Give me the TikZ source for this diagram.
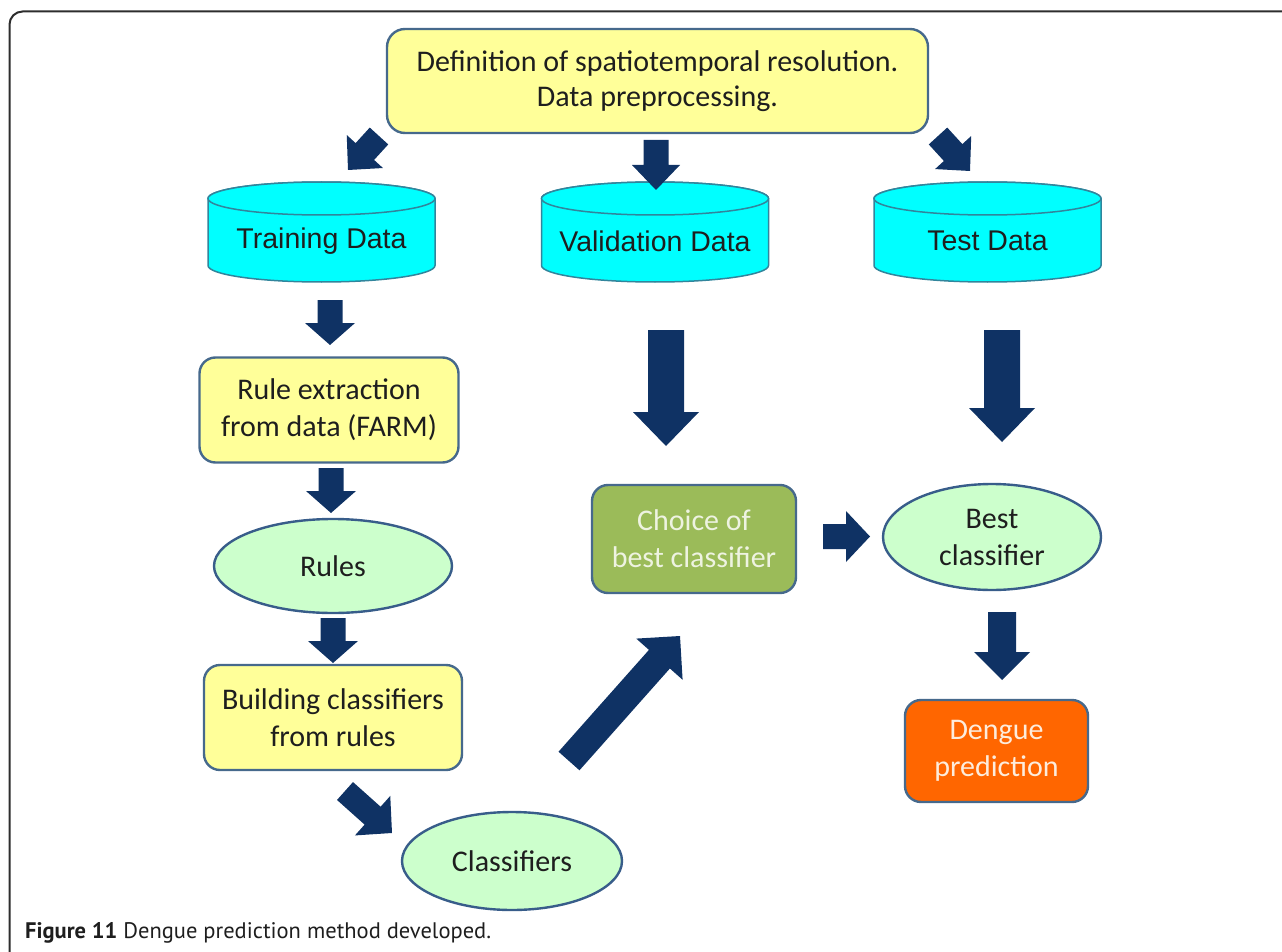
\documentclass[tikz,border=0pt]{standalone}
\usepackage{fontspec}
\setmainfont{Carlito}
\newfontfamily\arialf{Liberation Sans}
\newfontfamily\capf{PT Sans}
\usetikzlibrary{calc,shapes.geometric}
\definecolor{yel}{RGB}{255,255,153}
\definecolor{boxb}{RGB}{70,105,140}
\definecolor{ellf}{RGB}{204,255,204}
\definecolor{ellb}{RGB}{56,93,138}
\definecolor{cyf}{RGB}{0,255,255}
\definecolor{cyb}{RGB}{49,133,156}
\definecolor{grn}{RGB}{155,187,89}
\definecolor{org}{RGB}{255,102,0}
\definecolor{arrowc}{RGB}{15,50,100}
\definecolor{txt}{RGB}{30,30,30}
\definecolor{lgtxt}{RGB}{238,243,225}
\definecolor{lotxt}{RGB}{253,236,220}
\definecolor{framec}{RGB}{45,45,45}
\tikzset{
  every node/.style={inner sep=0pt, align=center},
  box/.style={draw=boxb, line width=2.4pt, rounded corners=16pt, fill=yel, text=txt,
    font=\fontsize{30}{37}\selectfont},
  ell/.style={ellipse, draw=ellb, line width=2.4pt, fill=ellf, text=txt,
    font=\fontsize{30}{37}\selectfont},
  cylst/.style={draw=cyb, line width=1.5pt, fill=cyf},
  cyltext/.style={text=txt, font=\arialf\fontsize{28.5}{34}\selectfont},
}
\newcommand{\blockarrow}[5]{%
  \path let \p1=($(#2)-(#1)$) in \pgfextra{%
    \pgfmathsetmacro{\tmpang}{atan2(\y1,\x1)}%
    \pgfmathsetmacro{\tmplen}{veclen(\x1,\y1)}%
    \global\let\baang\tmpang \global\let\balen\tmplen};
  \begin{scope}[shift={(#1)}, rotate=\baang]
    \fill[arrowc] (0pt,-#3pt) -- ({\balen pt-#5pt},-#3pt) -- ({\balen pt-#5pt},-#4pt)
      -- (\balen pt,0pt) -- ({\balen pt-#5pt},#4pt) -- ({\balen pt-#5pt},#3pt)
      -- (0pt,#3pt) -- cycle;
  \end{scope}}
\newcommand{\dbcyl}[5]{%
  \filldraw[cylst] ({#2-113.5},{#3+16.5}) -- ({#2-113.5},{#4-16.5})
    arc[start angle=180,end angle=0,x radius=113.5,y radius=16.5]
    -- ({#2+113.5},{#3+16.5})
    arc[start angle=0,end angle=-180,x radius=113.5,y radius=16.5] -- cycle;
  \draw[cylst] (#2,{#3+16.5}) ellipse[x radius=113.5, y radius=16.5];
  \node[cyltext] (#1) at (#2,{(#3+#4)/2+9}) {#5};}
\begin{document}
\begin{tikzpicture}[x=1pt,y=-1pt]
\useasboundingbox (0,0) rectangle (1282,952);
\draw[framec, line width=2pt, rounded corners=13pt] (9.5,952) |- (1282,11.5);

% nodes
\node[box, rounded corners=18pt, minimum width=541pt, minimum height=104pt,
  font=\fontsize{30}{35}\selectfont] (top) at (657.5,81)
  {Definition of spatiotemporal resolution.\\Data preprocessing.};
\dbcyl{train}{321.5}{182}{282}{Training Data}
\dbcyl{valid}{655}{182}{282}{Validation Data}
\dbcyl{test}{987.5}{182}{282}{Test Data}
\node[box, minimum width=259pt, minimum height=105pt] (rule) at (329,410)
  {Rule extraction\\from data (FARM)};
\node[ell, minimum width=238pt, minimum height=94pt] (rules) at (333,566) {Rules};
\node[box, minimum width=258pt, minimum height=105pt] (build) at (333,717.5)
  {Building classifiers\\from rules};
\node[ell, minimum width=220pt, minimum height=98pt] (clas) at (512,861) {Classifiers};
\node[box, fill=grn, text=lgtxt, minimum width=204pt, minimum height=108pt] (choice)
  at (694,539) {Choice of\\best classifier};
\node[ell, minimum width=218pt, minimum height=106pt] (best) at (992,537)
  {Best\\classifier};
\node[box, fill=org, text=lotxt, minimum width=183pt, minimum height=102pt] (deng)
  at (996.5,751) {Dengue\\prediction};
\node[anchor=base west, text=txt, font=\capf\fontsize{22.5}{26}\selectfont] (cap)
  at (25,938) {\textbf{Figure 11} Dengue prediction method developed.};

% arrow end points
\coordinate (a1s) at (379,136);   \coordinate (a1e) at (348,170);
\coordinate (a2s) at (656,140);   \coordinate (a2e) at (656,190);
\coordinate (a3s) at (938,136);   \coordinate (a3e) at (970,171);
\coordinate (a4s) at (330,300);   \coordinate (a4e) at (330,345);
\coordinate (a5s) at (331,468);   \coordinate (a5e) at (331,513);
\coordinate (a6s) at (333,618);   \coordinate (a6e) at (333,663);
\coordinate (a7s) at (345,791);   \coordinate (a7e) at (392,833);
\coordinate (a8s) at (569,761);   \coordinate (a8e) at (680,636);
\coordinate (a9s) at (666,330);   \coordinate (a9e) at (666,446);
\coordinate (a10s) at (1002,330); \coordinate (a10e) at (1002,442);
\coordinate (a11s) at (823,536.5);\coordinate (a11e) at (870,536.5);
\coordinate (a12s) at (1002,612); \coordinate (a12e) at (1002,680);

\blockarrow{a1s}{a1e}{12.5}{24.5}{25}
\blockarrow{a2s}{a2e}{12.5}{24}{25}
\blockarrow{a3s}{a3e}{12.5}{24.5}{25}
\blockarrow{a4s}{a4e}{12.5}{25}{22}
\blockarrow{a5s}{a5e}{12.5}{25}{22}
\blockarrow{a6s}{a6e}{12.5}{25}{22}
\blockarrow{a7s}{a7e}{12}{26.5}{26}
\blockarrow{a8s}{a8e}{14}{31}{31}
\blockarrow{a9s}{a9e}{18}{33}{34}
\blockarrow{a10s}{a10e}{18}{33}{34}
\blockarrow{a11s}{a11e}{12.5}{25.5}{24}
\blockarrow{a12s}{a12e}{14}{28}{28}
\end{tikzpicture}
\end{document}
